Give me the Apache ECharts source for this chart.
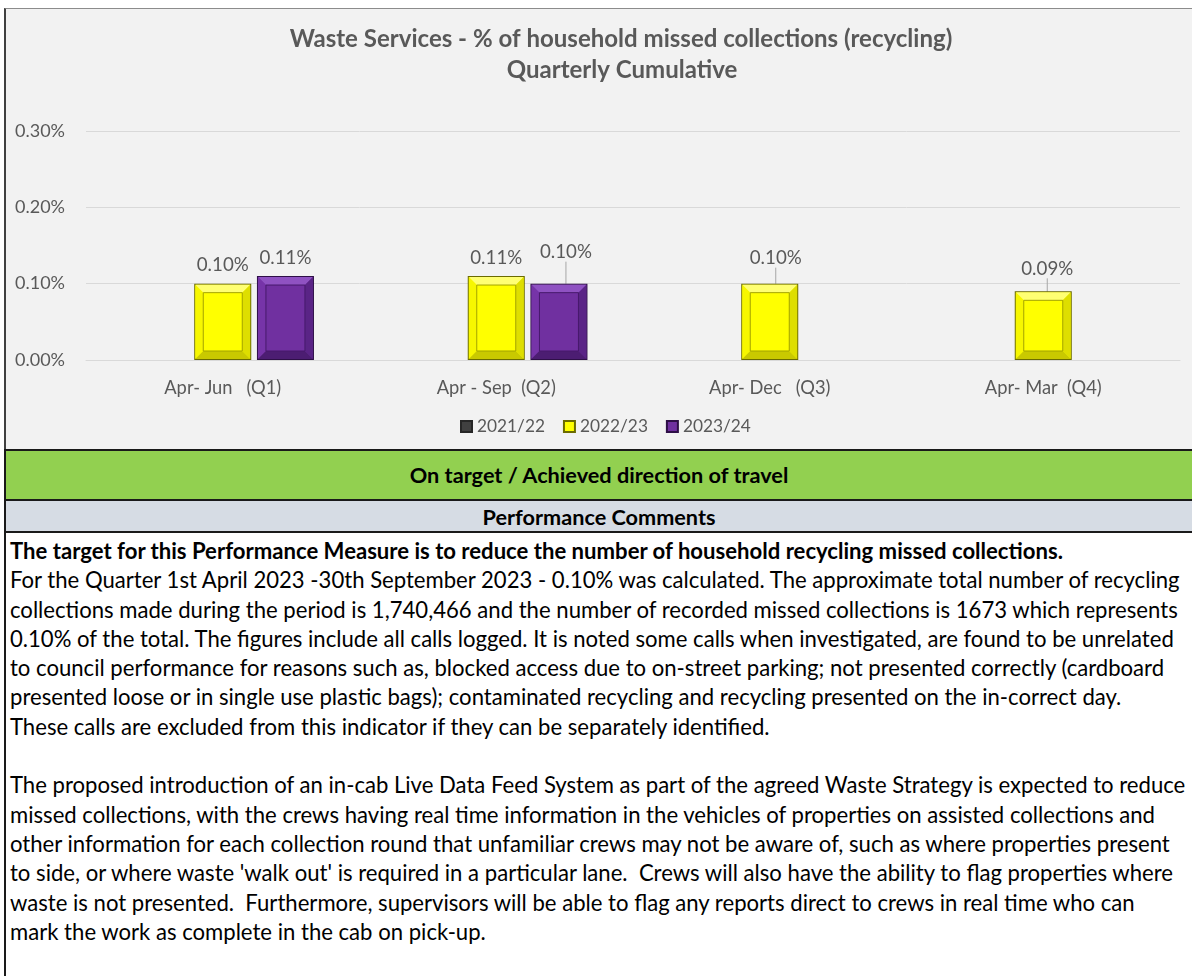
<!DOCTYPE html>
<html>
<head>
<meta charset="utf-8">
<script src="https://cdn.jsdelivr.net/npm/echarts@6/dist/echarts.min.js"></script>
<style>
  html, body { margin: 0; padding: 0; }
  body { width: 1192px; height: 976px; position: relative; overflow: hidden; background: #fff; font-family: Lato, "Open Sans", sans-serif; }
  #frame { position: absolute; left: 4px; top: 8px; width: 1188px; height: 441px; background: #f2f2f2; border-top: 1px solid #8c8c8c; border-left: 2px solid #404040; box-sizing: border-box; }
  #chart { position: absolute; left: 0; top: 0; width: 1192px; height: 446px; }
  #green { position: absolute; left: 4px; top: 449px; width: 1188px; height: 52px; background: #92d050; border-top: 2px solid #1a1a1a; border-bottom: 2px solid #1a1a1a; border-left: 2px solid #1a1a1a; box-sizing: border-box; display: flex; align-items: center; justify-content: center; font-weight: bold; color: #000; }
  #grey { position: absolute; left: 4px; top: 501px; width: 1188px; height: 32px; background: #d6dce4; border-bottom: 2px solid #1a1a1a; border-left: 2px solid #1a1a1a; box-sizing: border-box; display: flex; align-items: center; justify-content: center; font-weight: bold; color: #000; padding-top: 2px; }
  #body { position: absolute; left: 4px; top: 533px; width: 1188px; height: 443px; border-left: 2px solid #1a1a1a; box-sizing: border-box; padding-left: 4px; padding-top: 3px; color: #000; }
  #body div { white-space: pre; line-height: 29.3px; height: 29.3px; }
</style>
</head>
<body>
<div id="frame"></div>
<div id="chart"></div>
<div id="green">On target / Achieved direction of travel</div>
<div id="grey">Performance Comments</div>
<div id="body"></div>
<script>
// ---------- data ----------
const titleLines = ['Waste Services - % of household missed collections (recycling)', 'Quarterly Cumulative'];
const categories = ['Apr- Jun   (Q1)', 'Apr - Sep  (Q2)', 'Apr- Dec   (Q3)', 'Apr- Mar  (Q4)'];
const seriesNames = ['2021/22', '2022/23', '2023/24'];
const values2021 = [null, null, null, null];
const values2022 = [0.10, 0.11, 0.10, 0.09];
const values2023 = [0.11, 0.10, null, null];
const yTicks = [0, 0.1, 0.2, 0.3];

const boldLine = 'The target for this Performance Measure is to reduce the number of household recycling missed collections.';
const para1 = [
  'For the Quarter 1st April 2023 -30th September 2023 - 0.10% was calculated. The approximate total number of recycling',
  'collections made during the period is 1,740,466 and the number of recorded missed collections is 1673 which represents',
  '0.10% of the total. The figures include all calls logged. It is noted some calls when investigated, are found to be unrelated',
  'to council performance for reasons such as, blocked access due to on-street parking; not presented correctly (cardboard',
  'presented loose or in single use plastic bags); contaminated recycling and recycling presented on the in-correct day.',
  'These calls are excluded from this indicator if they can be separately identified.'
];
const para2 = [
  'The proposed introduction of an in-cab Live Data Feed System as part of the agreed Waste Strategy is expected to reduce',
  'missed collections, with the crews having real time information in the vehicles of properties on assisted collections and',
  'other information for each collection round that unfamiliar crews may not be aware of, such as where properties present',
  "to side, or where waste 'walk out' is required in a particular lane.  Crews will also have the ability to flag properties where",
  'waste is not presented.  Furthermore, supervisors will be able to flag any reports direct to crews in real time who can',
  'mark the work as complete in the cab on pick-up.'
];

// label nudges (style, not data): [dx, dy] per category
const nudge2022 = [[0, 0], [0, 0], [6, -7], [4, -4]];
const nudge2023 = [[0, 0], [7, -13], [0, 0], [0, 0]];

// ---------- font fitting ----------
const FAM = 'Lato, "Open Sans", sans-serif';
const ctx = document.createElement('canvas').getContext('2d');
function fit(text, weight, target) {
  ctx.font = weight + ' 100px ' + FAM;
  return 100 * target / ctx.measureText(text).width;
}
const titleSize = fit(titleLines[0], 'bold', 663);
const yLabSize = fit('0.30%', 'normal', 50);
const xLabSize = fit(categories[0], 'normal', 117);
const dataLabSize = fit('0.10%', 'normal', 52);
const legendSize = fit('2021/22', 'normal', 68);
const bodySize = fit(para1[1], 'normal', 1170);

document.getElementById('green').style.fontSize = fit('On target / Achieved direction of travel', 'bold', 380) + 'px';
document.getElementById('grey').style.fontSize = fit('Performance Comments', 'bold', 233) + 'px';
const bodyEl = document.getElementById('body');
bodyEl.style.fontSize = bodySize + 'px';
function addLine(t, bold) {
  const d = document.createElement('div');
  d.textContent = t;
  if (bold) d.style.fontWeight = 'bold';
  bodyEl.appendChild(d);
}
addLine(boldLine, true);
para1.forEach(t => addLine(t));
addLine(' ');
para2.forEach(t => addLine(t));

// ---------- chart ----------
const chart = echarts.init(document.getElementById('chart'), null, { renderer: 'canvas' });
const grey = '#595959';
function pct(v) { return v.toFixed(2) + '%'; }

const BAR_W = 57;
const BAR_GAP = 0.1;

function barSeries(name, vals, color, border, nudges) {
  const data = vals.map((v, i) => {
    const n = nudges ? nudges[i] : [0, 0];
    const moved = n[0] !== 0 || n[1] !== 0;
    return { value: v, labelLine: { show: moved } };
  });
  return {
    name: name,
    type: 'bar',
    data: data,
    barWidth: BAR_W,
    barGap: (BAR_GAP * 100) + '%',
    z: 2,
    itemStyle: { color: color, borderColor: border, borderWidth: 1.2 },
    label: {
      show: true, position: 'top', distance: 9,
      color: grey, fontFamily: FAM, fontSize: dataLabSize,
      formatter: p => (p.value == null ? '' : pct(p.value))
    },
    labelLayout: nudges ? function (params) {
      const n = nudges[params.dataIndex] || [0, 0];
      return { dx: n[0], dy: n[1] };
    } : undefined,
    labelLine: { show: false, lineStyle: { color: '#a6a6a6', width: 1 } }
  };
}

// bevel overlay drawn from the same values through the axis scales
function bevelSeries(vals, slot, pal) {
  const data = [];
  vals.forEach((v, i) => { if (v != null) data.push([i, v]); });
  const step = BAR_W * (1 + BAR_GAP);
  return {
    type: 'custom',
    name: 'bevel' + slot,
    silent: true,
    z: 3,
    encode: { x: 0, y: 1 },
    data: data,
    renderItem: function (params, api) {
      const top = api.coord([api.value(0), api.value(1)]);
      const base = api.coord([api.value(0), 0]);
      const cx = top[0] + slot * step;
      const x0 = cx - BAR_W / 2 + 1, x1 = cx + BAR_W / 2 - 1;
      const y0 = top[1] + 1, y1 = base[1] - 1;
      const b = 8;
      const poly = (pts, fill) => ({ type: 'polygon', shape: { points: pts }, style: { fill: fill } });
      return {
        type: 'group',
        children: [
          poly([[x0, y0], [x1, y0], [x1 - b, y0 + b], [x0 + b, y0 + b]], pal.top),
          poly([[x0, y0], [x0 + b, y0 + b], [x0 + b, y1 - b], [x0, y1]], pal.left),
          poly([[x1, y0], [x1, y1], [x1 - b, y1 - b], [x1 - b, y0 + b]], pal.right),
          poly([[x0, y1], [x1, y1], [x1 - b, y1 - b], [x0 + b, y1 - b]], pal.bottom),
          { type: 'rect', shape: { x: x0 + b, y: y0 + b, width: x1 - x0 - 2 * b, height: y1 - y0 - 2 * b },
            style: { fill: 'none', stroke: pal.inner, lineWidth: 1 } }
        ]
      };
    }
  };
}

const yellowPal = { top: '#ffff73', left: '#f7f700', right: '#dede00', bottom: '#c9c900', inner: '#a3a300' };
const purplePal = { top: '#8f52c2', left: '#7634a8', right: '#5a2486', bottom: '#4c1d72', inner: '#46196b' };

chart.setOption({
  animation: false,
  backgroundColor: 'transparent',
  textStyle: { fontFamily: FAM },
  graphic: [
    { type: 'text', x: 621, y: 27, style: { text: titleLines[0], fontFamily: FAM, fontWeight: 'bold', fontSize: titleSize, fill: grey, textAlign: 'center' } },
    { type: 'text', x: 622, y: 58, style: { text: titleLines[1], fontFamily: FAM, fontWeight: 'bold', fontSize: titleSize, fill: grey, textAlign: 'center' } }
  ],
  grid: { left: 86, right: 12, top: 131, bottom: 86, containLabel: false },
  legend: {
    data: seriesNames,
    left: 455, top: 413,
    itemWidth: 11, itemHeight: 11, itemGap: 18, icon: 'rect',
    textStyle: { color: grey, fontSize: legendSize, fontFamily: FAM }
  },
  xAxis: {
    type: 'category', data: categories,
    axisLine: { lineStyle: { color: '#d9d9d9' } },
    axisTick: { show: false },
    axisLabel: { color: grey, fontSize: xLabSize, fontFamily: FAM, margin: 19 }
  },
  yAxis: {
    type: 'value', min: yTicks[0], max: yTicks[yTicks.length - 1], interval: 0.1,
    axisLine: { show: false }, axisTick: { show: false },
    splitLine: { lineStyle: { color: '#d9d9d9' } },
    axisLabel: { color: grey, fontSize: yLabSize, fontFamily: FAM, margin: 21, formatter: v => pct(v) }
  },
  series: [
    barSeries(seriesNames[0], values2021, '#404040', '#262626', null),
    barSeries(seriesNames[1], values2022, '#ffff00', '#6b6b00', nudge2022),
    barSeries(seriesNames[2], values2023, '#7030a0', '#2e0f47', nudge2023),
    bevelSeries(values2022, 0, yellowPal),
    bevelSeries(values2023, 1, purplePal)
  ]
});
</script>
</body>
</html>
